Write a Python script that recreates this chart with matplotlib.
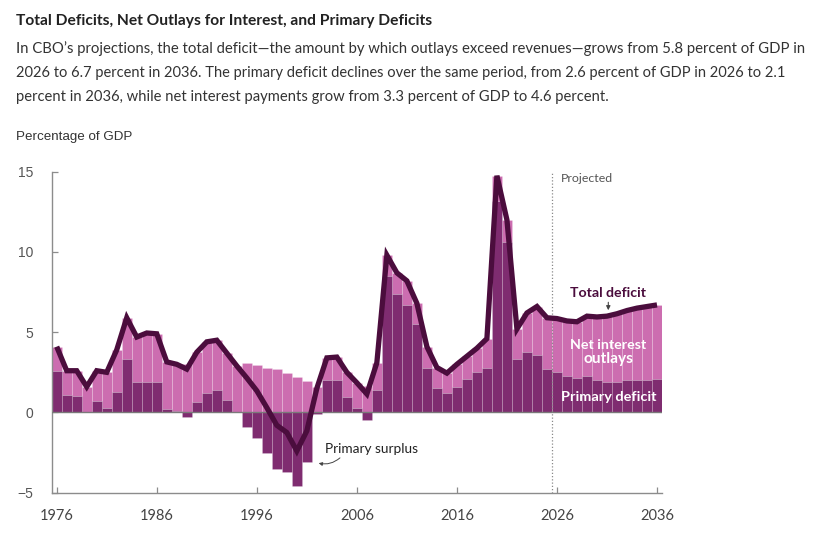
import matplotlib
matplotlib.use("Agg")
import matplotlib.pyplot as plt
from matplotlib.patches import FancyArrowPatch
import numpy as np

# ---------------- data (percentage of GDP) ----------------
years = list(range(1976, 2037))
primary_deficit = [
    2.6, 1.1, 1.0, 0.0, 0.7, 0.3, 1.3, 3.3, 1.9, 1.9,      # 1976-1985
    1.9, 0.2, 0.1, -0.3, 0.65, 1.2, 1.4, 0.8, 0.0, -0.9,   # 1986-1995
    -1.6, -2.5, -3.5, -3.7, -4.6, -3.1, -0.1, 2.0, 2.05, 0.95,  # 1996-2005
    0.25, -0.5, 1.4, 8.5, 7.35, 6.7, 5.5, 2.8, 1.5, 1.2,   # 2006-2015
    1.6, 2.1, 2.5, 2.8, 13.2, 10.6, 3.3, 3.75, 3.55, 2.7,  # 2016-2025
    2.55, 2.3, 2.15, 2.25, 2.05, 1.9, 1.9, 2.0, 2.05, 2.05,  # 2026-2035
    2.1,                                                   # 2036
]
net_interest = [
    1.5, 1.5, 1.6, 1.6, 1.9, 2.2, 2.6, 2.6, 2.8, 3.05,
    3.0, 2.95, 2.9, 3.0, 3.1, 3.2, 3.1, 2.9, 2.9, 3.05,
    2.95, 2.8, 2.7, 2.45, 2.2, 1.95, 1.6, 1.4, 1.4, 1.55,
    1.6, 1.65, 1.7, 1.3, 1.35, 1.5, 1.3, 1.3, 1.3, 1.25,
    1.4, 1.4, 1.5, 1.8, 1.55, 1.4, 1.9, 2.45, 3.05, 3.2,
    3.3, 3.4, 3.5, 3.75, 3.9, 4.1, 4.25, 4.35, 4.45, 4.55,
    4.6,
]
x_ticks = [1976, 1986, 1996, 2006, 2016, 2026, 2036]
y_ticks = [-5, 0, 5, 10, 15]
y_tick_labels = ["\u22125", "0", "5", "10", "15"]
projection_start = 2025.5

title = "Total Deficits, Net Outlays for Interest, and Primary Deficits"
subtitle = [
    "In CBO\u2019s projections, the total deficit\u2014the amount by which outlays exceed revenues\u2014grows from 5.8 percent of GDP in",
    "2026 to 6.7 percent in 2036. The primary deficit declines over the same period, from 2.6 percent of GDP in 2026 to 2.1",
    "percent in 2036, while net interest payments grow from 3.3 percent of GDP to 4.6 percent.",
]

# ---------------- style ----------------
DARK = "#7f2c70"
LIGHT = "#cc6db0"
LINE = "#4b0d3d"
GRAY = "#555555"
SANS = ["Lato", "DejaVu Sans"]
ARIAL = ["Liberation Sans", "DejaVu Sans"]

W, H = 818, 540
fig = plt.figure(figsize=(W / 100, H / 100), dpi=100)
renderer = fig.canvas.get_renderer()


def px_text(x, y, s, width=None, ha="left", va="baseline", **kw):
    t = fig.text(x / W, 1 - y / H, s, ha=ha, va=va, **kw)
    if width is not None:
        bb = t.get_window_extent(renderer=renderer)
        t.set_fontsize(t.get_fontsize() * width / bb.width)
    return t


# ---------------- axes ----------------
ax = fig.add_axes([51.7 / W, 1 - 492.7 / H, (662 - 51.7) / W, 321 / H])
yrs = np.array(years)
prim = np.array(primary_deficit)
intr = np.array(net_interest)
total = prim + intr

interest_bottom = np.where(prim > 0, prim, 0.0)
ax.bar(yrs, intr, bottom=interest_bottom, width=1.0, color=LIGHT,
       edgecolor=(1, 1, 1, 0.22), linewidth=0.6, zorder=2)
ax.bar(yrs, prim, width=1.0, color=DARK,
       edgecolor=(1, 1, 1, 0.18), linewidth=0.6, zorder=2)
ax.axhline(0, color="#7a7a7a", lw=1.0, zorder=3)
ax.plot(yrs, total, color=LINE, lw=3.8, solid_joinstyle="miter",
        solid_capstyle="butt", zorder=5)
ax.axvline(projection_start, color="#8a8a8a", lw=0.9, ls=(0, (1, 1.6)), zorder=4)

ax.set_xlim(1975.5, 2036.5)
ax.set_ylim(-5, 15)
for s in ["top", "right"]:
    ax.spines[s].set_visible(False)
for s in ["left", "bottom"]:
    ax.spines[s].set_color("#8c8c8c")
    ax.spines[s].set_linewidth(1.0)
ax.set_xticks(x_ticks)
ax.set_xticklabels([str(v) for v in x_ticks], fontfamily=SANS, fontsize=10.5,
                   color="#444444")
ax.set_yticks(y_ticks)
ax.set_yticklabels(y_tick_labels, fontfamily=ARIAL, fontsize=10, color=GRAY)
ax.tick_params(axis="x", direction="in", length=4.5, width=0.9, color="#8c8c8c", pad=12)
ax.tick_params(axis="y", direction="in", length=4.5, width=0.9, color="#8c8c8c", pad=13)

# ---------------- annotations ----------------
px_text(561, 181.7, "Projected", width=52.7, color="#555555", family=SANS)
px_text(608.3, 296.7, "Total deficit", width=76, ha="center", color=LINE,
        family=SANS, fontweight="bold")
fig.add_artist(FancyArrowPatch((608.3 / W, 1 - 299.5 / H), (608.3 / W, 1 - 313 / H),
                               transform=fig.transFigure, arrowstyle="-|>",
                               mutation_scale=6, color="#444444", lw=0.8))
px_text(608.3, 349.3, "Net interest", width=76.7, ha="center", color="white",
        family=SANS, fontweight="bold", zorder=10)
px_text(608.3, 363.3, "outlays", ha="center", color="white",
        family=SANS, fontweight="bold", zorder=10, fontsize=11.1)
px_text(608.3, 400.7, "Primary deficit", width=95, ha="center", color="white",
        family=SANS, fontweight="bold", zorder=10)
px_text(325, 452.7, "Primary surplus", width=93, color="#222222", family=SANS)
fig.add_artist(FancyArrowPatch((342 / W, 1 - 456 / H), (316 / W, 1 - 462.5 / H),
                               transform=fig.transFigure, arrowstyle="-|>",
                               connectionstyle="arc3,rad=-0.3",
                               mutation_scale=5, color="#444444", lw=0.7))

# ---------------- header text ----------------
px_text(16, 25.3, title, width=418, color="#222222", family=SANS, fontweight="bold")
bases = [53.5, 77.2, 100.8]
widths = [791, 770, 591]
for s, b, w in zip(subtitle, bases, widths):
    px_text(16, b, s, width=w, color="#333333", family=SANS)
px_text(16, 140, "Percentage of GDP", width=117, color="#333333", family=ARIAL)

fig.savefig("out.png", dpi=100)
